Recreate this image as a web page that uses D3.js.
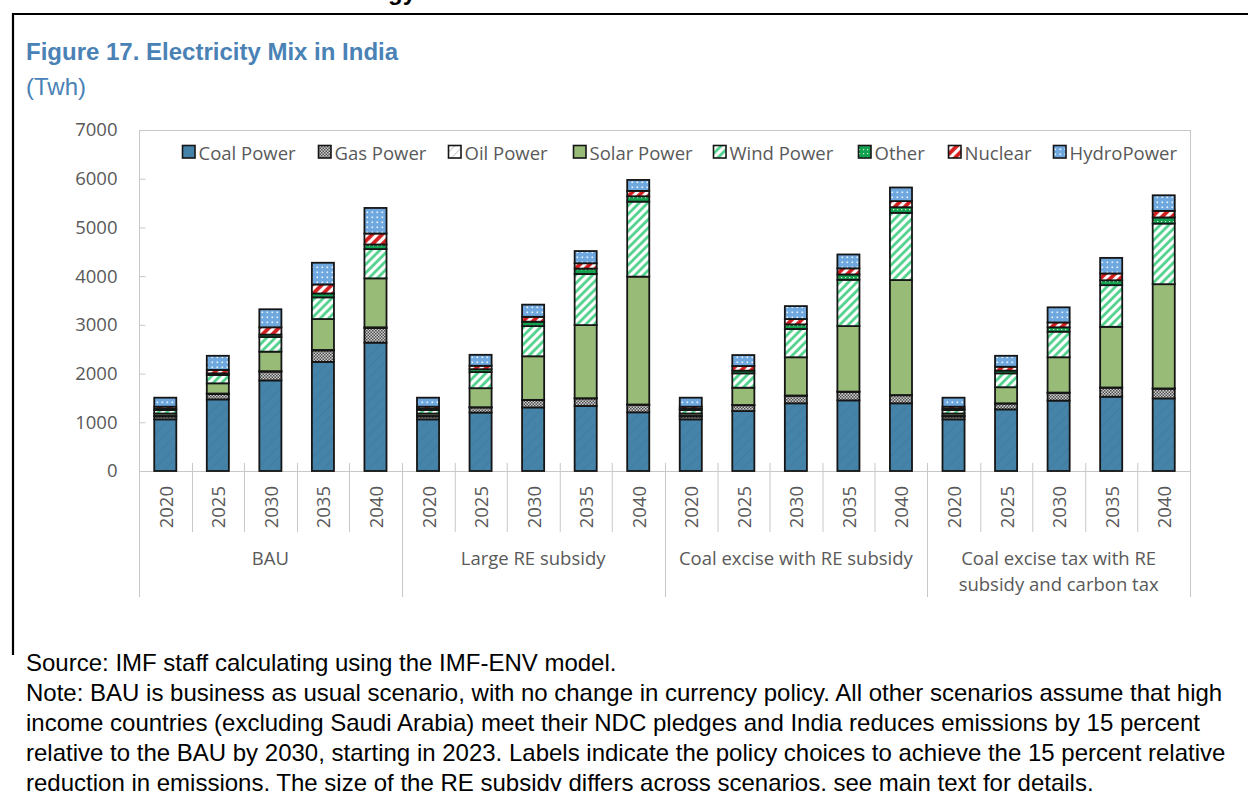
<!DOCTYPE html>
<html>
<head>
<meta charset="utf-8">
<script src="https://cdn.jsdelivr.net/npm/d3@7"></script>
<style>
  html, body { margin: 0; padding: 0; background: #ffffff; }
  svg { display: block; }
</style>
</head>
<body>
<svg id="chart" width="1248" height="791"></svg>
<script>
// ---------------- DATA ----------------
const scenarios = ["BAU", "Large RE subsidy", "Coal excise with RE subsidy", "Coal excise tax with RE subsidy and carbon tax"];
const scenarioLabelLines = [["BAU"], ["Large RE subsidy"], ["Coal excise with RE subsidy"], ["Coal excise tax with RE", "subsidy and carbon tax"]];
const years = ["2020", "2025", "2030", "2035", "2040"];
const seriesNames = ["Coal Power", "Gas Power", "Oil Power", "Solar Power", "Wind Power", "Other", "Nuclear", "HydroPower"];
const yTicks = [0, 1000, 2000, 3000, 4000, 5000, 6000, 7000];

// values ordered scenario by scenario, years 2020..2040 (TWh)
const coalPower  = [1060, 1470, 1860, 2240, 2635,  1060, 1200, 1305, 1335, 1205,  1060, 1230, 1390, 1450, 1390,  1060, 1265, 1445, 1525, 1490];
const gasPower   = [  60,  110,  180,  235,  300,    60,  105,  150,  155,  155,    60,  120,  155,  175,  165,    60,  120,  160,  185,  200];
const oilPower   = [  10,   10,   10,   10,   15,    10,    5,    5,    5,    5,    10,    5,    5,    5,    5,    10,    5,    5,    5,    5];
const solarPower = [  50,  210,  400,  635, 1005,    50,  390,  895, 1500, 2625,    50,  355,  785, 1345, 2360,    50,  330,  725, 1245, 2140];
const windPower  = [  70,  170,  300,  445,  600,    70,  330,  620, 1050, 1540,    70,  295,  580,  950, 1380,    70,  285,  525,  855, 1245];
const otherPower = [  25,   35,   50,   80,   95,    25,   60,   90,  110,  110,    25,   55,   95,  110,  115,    25,   55,   90,  100,  125];
const nuclear    = [  45,   70,  150,  185,  225,    45,   70,  100,  110,  110,    45,   95,  110,  125,  125,    45,   80,  100,  140,  135];
const hydroPower = [ 185,  290,  370,  445,  525,   185,  225,  250,  250,  225,   185,  225,  265,  285,  280,   185,  225,  310,  320,  320];

const seriesValues = [coalPower, gasPower, oilPower, solarPower, windPower, otherPower, nuclear, hydroPower];

// ---------------- TABLE ----------------
const rows = [];
scenarios.forEach((s, si) => {
  years.forEach((y, yi) => {
    const idx = si * years.length + yi;
    const r = { scenario: s, year: y };
    seriesNames.forEach((n, ni) => { r[n] = seriesValues[ni][idx]; });
    rows.push(r);
  });
});

// ---------------- LAYOUT ----------------
const svg = d3.select("#chart");
const plot = { left: 139, right: 1190, top: 130, bottom: 471 };

const x0 = d3.scaleBand().domain(scenarios).range([plot.left, plot.right]).padding(0);
const x1 = d3.scaleBand().domain(years).range([0, x0.bandwidth()]).paddingInner(0.58).paddingOuter(0.29);
const y = d3.scaleLinear().domain([0, 7000]).range([plot.bottom, plot.top]);

const chartFont = "'Open Sans', 'Noto Sans', sans-serif";
const docFont = "'Liberation Sans', Arial, sans-serif";
const chartFontSize = 18.5;
const gridGrey = "#c8c8c8";
const labelGrey = "#595959";

// ---------------- PATTERNS ----------------
const defs = svg.append("defs");
function pat(id, w, h, build, transform) {
  const p = defs.append("pattern").attr("id", id).attr("patternUnits", "userSpaceOnUse")
    .attr("width", w).attr("height", h);
  if (transform) p.attr("patternTransform", transform);
  build(p);
}
pat("p-coal", 8, 8, p => {
  p.append("rect").attr("width", 8).attr("height", 8).attr("fill", "#4683a9");
  p.append("line").attr("x1", 0).attr("y1", 0).attr("x2", 0).attr("y2", 8).attr("stroke", "#417da3").attr("stroke-width", 2);
}, "rotate(45)");
pat("p-gas", 3, 3, p => {
  p.append("rect").attr("width", 3).attr("height", 3).attr("fill", "#cfcfcf");
  p.append("rect").attr("width", 1.5).attr("height", 1.5).attr("fill", "#4d4d4d");
  p.append("rect").attr("x", 1.5).attr("y", 1.5).attr("width", 1.5).attr("height", 1.5).attr("fill", "#4d4d4d");
});
pat("p-oil", 6, 6, p => {
  p.append("rect").attr("width", 6).attr("height", 6).attr("fill", "#ffffff");
  p.append("line").attr("x1", 0).attr("y1", 0).attr("x2", 0).attr("y2", 6).attr("stroke", "#bdbdbd").attr("stroke-width", 1.5);
}, "rotate(45)");
pat("p-solar", 8, 8, p => {
  p.append("rect").attr("width", 8).attr("height", 8).attr("fill", "#98bb78");
});
pat("p-wind", 6, 6, p => {
  p.append("rect").attr("width", 6).attr("height", 6).attr("fill", "#ffffff");
  p.append("line").attr("x1", 1.5).attr("y1", 0).attr("x2", 1.5).attr("y2", 6).attr("stroke", "#45cf85").attr("stroke-width", 2.6);
}, "rotate(45)");
pat("p-other", 4, 4, p => {
  p.append("rect").attr("width", 4).attr("height", 4).attr("fill", "#12a24f");
  p.append("rect").attr("x", 1).attr("y", 1).attr("width", 1.2).attr("height", 1.2).attr("fill", "#d8f5e2");
});
pat("p-nuclear", 7, 7, p => {
  p.append("rect").attr("width", 7).attr("height", 7).attr("fill", "#ffffff");
  p.append("line").attr("x1", 2).attr("y1", 0).attr("x2", 2).attr("y2", 7).attr("stroke", "#d41c1c").attr("stroke-width", 3.8);
}, "rotate(45)");
pat("p-hydro", 5, 5, p => {
  p.append("rect").attr("width", 5).attr("height", 5).attr("fill", "#6ea8de");
  p.append("rect").attr("x", 1.5).attr("y", 1.5).attr("width", 1.6).attr("height", 1.6).attr("fill", "#eef5fc");
});
const fills = ["url(#p-coal)", "url(#p-gas)", "url(#p-oil)", "url(#p-solar)", "url(#p-wind)", "url(#p-other)", "url(#p-nuclear)", "url(#p-hydro)"];

// ---------------- FRAME & TITLE ----------------
svg.append("text").attr("x", 416).attr("y", 0).attr("text-anchor", "end")
  .attr("font-family", docFont).attr("font-weight", "bold").attr("font-size", 24).attr("fill", "#000")
  .text("Energy");
const frameG = svg.append("g").attr("stroke", "#000").attr("stroke-width", 2.2).attr("fill", "none");
frameG.append("line").attr("x1", 12).attr("x2", 1260).attr("y1", 14).attr("y2", 14);
frameG.append("line").attr("x1", 13).attr("x2", 13).attr("y1", 13).attr("y2", 655);

svg.append("text").attr("x", 26).attr("y", 60)
  .attr("font-family", docFont).attr("font-weight", "bold").attr("font-size", 24).attr("fill", "#4a82b6")
  .text("Figure 17. Electricity Mix in India");
svg.append("text").attr("x", 26).attr("y", 95)
  .attr("font-family", docFont).attr("font-size", 24).attr("fill", "#4a82b6")
  .text("(Twh)");

// ---------------- PLOT FRAME ----------------
const frame = svg.append("g").attr("stroke", gridGrey).attr("stroke-width", 1).attr("fill", "none");
frame.append("line").attr("x1", plot.left).attr("x2", plot.right).attr("y1", plot.top + 0.5).attr("y2", plot.top + 0.5);
frame.append("line").attr("x1", plot.right + 0.5).attr("x2", plot.right + 0.5).attr("y1", plot.top).attr("y2", 597);

// ---------------- Y AXIS ----------------
const yAxis = d3.axisLeft(y).tickValues(yTicks).tickSizeInner(-6).tickSizeOuter(0).tickPadding(22).tickFormat(d3.format("d"));
const yg = svg.append("g").attr("transform", `translate(${plot.left + 0.5},0)`).call(yAxis);
yg.select(".domain").remove();
yg.selectAll(".tick line").attr("stroke", gridGrey);
yg.selectAll(".tick text").attr("font-family", chartFont).attr("font-size", chartFontSize).attr("fill", labelGrey);
svg.append("line").attr("x1", plot.left + 0.5).attr("x2", plot.left + 0.5).attr("y1", plot.top).attr("y2", 597)
  .attr("stroke", gridGrey);

// ---------------- X AXIS (multi-level) ----------------
svg.append("line").attr("x1", plot.left).attr("x2", plot.right).attr("y1", plot.bottom + 0.5).attr("y2", plot.bottom + 0.5)
  .attr("stroke", gridGrey);
const xg = svg.append("g");
scenarios.forEach((s, si) => {
  const g = xg.append("g").attr("transform", `translate(${x0(s)},0)`);
  years.forEach((yr, yi) => {
    const left = x1(yr) - x1.step() * x1.paddingInner() / 2;
    if (yi > 0) {
      g.append("line").attr("x1", Math.round(left) + 0.5).attr("x2", Math.round(left) + 0.5)
        .attr("y1", plot.bottom - 8).attr("y2", 532).attr("stroke", gridGrey);
    }
    g.append("text")
      .attr("transform", `translate(${x1(yr) + x1.bandwidth() / 2},486) rotate(-90)`)
      .attr("text-anchor", "end").attr("dominant-baseline", "central")
      .attr("font-family", chartFont).attr("font-size", chartFontSize).attr("fill", labelGrey)
      .text(yr);
  });
  if (si > 0) {
    svg.append("line").attr("x1", Math.round(x0(s)) + 0.5).attr("x2", Math.round(x0(s)) + 0.5)
      .attr("y1", plot.bottom - 8).attr("y2", 597).attr("stroke", gridGrey);
  }
  const lines = scenarioLabelLines[si];
  lines.forEach((ln, li) => {
    g.append("text").attr("x", x0.bandwidth() / 2).attr("y", 557 + li * 26)
      .attr("text-anchor", "middle").attr("dominant-baseline", "central")
      .attr("font-family", chartFont).attr("font-size", chartFontSize).attr("fill", labelGrey)
      .text(ln);
  });
});

// ---------------- BARS ----------------
const stack = d3.stack().keys(seriesNames);
const stacked = stack(rows);
const barG = svg.append("g");
stacked.forEach((layer, li) => {
  barG.append("g").selectAll("rect").data(layer).join("rect")
    .attr("x", d => x0(d.data.scenario) + x1(d.data.year))
    .attr("width", x1.bandwidth())
    .attr("y", d => y(d[1]))
    .attr("height", d => Math.max(0, y(d[0]) - y(d[1])))
    .attr("fill", fills[li])
    .attr("stroke", "#151515")
    .attr("stroke-width", 1.8);
});

// ---------------- LEGEND ----------------
const legendX = [182, 318, 448, 573, 713, 858, 948, 1053];
const legend = svg.append("g");
seriesNames.forEach((n, i) => {
  const g = legend.append("g").attr("transform", `translate(${legendX[i]},152)`);
  g.append("rect").attr("x", 0.5).attr("y", -6.5).attr("width", 12.5).attr("height", 12.5)
    .attr("fill", fills[i]).attr("stroke", "#151515").attr("stroke-width", 1.6);
  g.append("text").attr("x", 16.5).attr("y", 0).attr("dominant-baseline", "central")
    .attr("font-family", chartFont).attr("font-size", chartFontSize).attr("fill", labelGrey)
    .text(n);
});

// ---------------- NOTES ----------------
const noteLines = [
  "Source: IMF staff calculating using the IMF-ENV model.",
  "Note: BAU is business as usual scenario, with no change in currency policy. All other scenarios assume that high",
  "income countries (excluding Saudi Arabia) meet their NDC pledges and India reduces emissions by 15 percent",
  "relative to the BAU by 2030, starting in 2023. Labels indicate the policy choices to achieve the 15 percent relative",
  "reduction in emissions. The size of the RE subsidy differs across scenarios, see main text for details."
];
noteLines.forEach((t, i) => {
  svg.append("text").attr("x", 26).attr("y", 671 + i * 30)
    .attr("font-family", docFont).attr("font-size", 24).attr("fill", "#000")
    .text(t);
});
</script>
</body>
</html>
